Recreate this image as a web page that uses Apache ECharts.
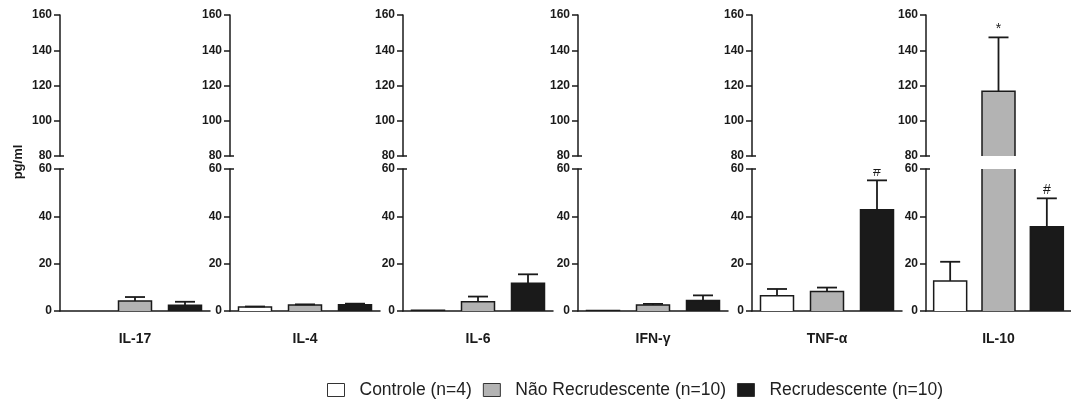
<!DOCTYPE html>
<html>
<head>
<meta charset="utf-8">
<script src="https://cdn.jsdelivr.net/npm/echarts@6/dist/echarts.min.js"></script>
<style>
  html, body { margin: 0; background: #fff; }
  #chart { width: 1071px; height: 403px; }
</style>
</head>
<body>
<div id="chart"></div>
<script>
  // dados (pg/ml, média e erro padrão)
  const cytokines = ['IL-17', 'IL-4', 'IL-6', 'IFN-γ', 'TNF-α', 'IL-10'];
  const groups = ['Controle (n=4)', 'Não Recrudescente (n=10)', 'Recrudescente (n=10)'];
  const controleMean = [0, 1.7, 0.3, 0.2, 6.4, 12.7];
  const controleSem = [0, 0.2, 0, 0, 2.9, 8.1];
  const naoRecMean = [4.2, 2.5, 3.9, 2.5, 8.2, 116.8];
  const naoRecSem = [1.7, 0.3, 2.2, 0.5, 1.7, 30.5];
  const recMean = [2.4, 2.6, 11.7, 4.4, 42.8, 35.6];
  const recSem = [1.5, 0.5, 3.8, 2.2, 12.4, 12.0];
  const naoRecMarks = ['', '', '', '', '', '*'];
  const recMarks = ['', '', '', '', '#', '#'];
  const upperTicks = [80, 160];
  const lowerTicks = [0, 60];

  const means = [controleMean, naoRecMean, recMean];
  const sems = [controleSem, naoRecSem, recSem];
  const marks = [['', '', '', '', '', ''], naoRecMarks, recMarks];

  const chart = echarts.init(document.getElementById('chart'));
  const FONT = 'Liberation Sans, Arial, sans-serif';
  const INK = '#1a1a1a';
  const fills = ['#ffffff', '#b3b3b3', '#1a1a1a'];
  const panelLeft = [60, 230, 403, 578, 752, 926];
  const PANEL_W = 150;
  const BAR_W = 33;
  const CAP_W = 20;
  // parte de cima (80-160) e parte de baixo (0-60) do eixo quebrado
  const parts = [
    { top: 15, height: 141, ticks: upperTicks, breakAt: upperTicks[0] },
    { top: 169, height: 142, ticks: lowerTicks, breakAt: lowerTicks[1] }
  ];

  const grid = [], xAxis = [], yAxis = [], series = [];

  // contorno da barra (sem a base, para não marcar a quebra), barra de erro
  // (só para cima) e marcação de significância
  function errorRenderer(p) {
    return function (params, api) {
      const k = api.value(0);
      const m = api.value(1);
      const s = api.value(2);
      const zero = api.coord([k, 0]);
      const base = api.coord([k, m]);
      const top = api.coord([k, m + s]);
      const half = BAR_W / 2;
      const children = [];
      if (m > 0) {
        children.push({
          type: 'polyline',
          shape: {
            points: [
              [base[0] - half, zero[1]], [base[0] - half, base[1]],
              [base[0] + half, base[1]], [base[0] + half, zero[1]]
            ]
          },
          style: { stroke: INK, lineWidth: 1.5, fill: null }
        });
      }
      if (s > 0) {
        children.push({
          type: 'line',
          shape: { x1: base[0], y1: base[1], x2: top[0], y2: top[1] },
          style: { stroke: INK, lineWidth: 1.8 }
        });
        children.push({
          type: 'line',
          shape: { x1: top[0] - CAP_W / 2, y1: top[1], x2: top[0] + CAP_W / 2, y2: top[1] },
          style: { stroke: INK, lineWidth: 1.8 }
        });
      }
      const mk = marks[k][p];
      if (mk) {
        children.push({
          type: 'text',
          x: top[0], y: top[1] - 1,
          style: {
            text: mk, fill: INK, font: '14px ' + FONT,
            align: 'center', verticalAlign: 'bottom'
          }
        });
      }
      return { type: 'group', children: children };
    };
  }

  cytokines.forEach((name, p) => {
    parts.forEach((part, h) => {
      const gi = grid.length;
      const isLower = h === 1;
      grid.push({ left: panelLeft[p], width: PANEL_W, top: part.top, height: part.height });
      xAxis.push({
        type: 'category',
        gridIndex: gi,
        data: groups,
        show: isLower,
        axisLine: { lineStyle: { color: INK, width: 1.5 } },
        axisTick: {
          alignWithLabel: true,
          interval: (i) => i === 1,
          length: 5,
          lineStyle: { color: INK, width: 1.5 }
        },
        axisLabel: { show: false },
        name: isLower ? name : '',
        nameLocation: 'middle',
        nameGap: 21,
        nameTextStyle: { fontFamily: FONT, fontWeight: 'bold', fontSize: 14, color: INK }
      });
      const yi = yAxis.length;
      yAxis.push({
        type: 'value',
        gridIndex: gi,
        position: 'left',
        min: part.ticks[0],
        max: part.ticks[1],
        interval: 20,
        splitLine: { show: false },
        axisLine: { show: true, lineStyle: { color: INK, width: 1.5 } },
        axisTick: { show: true, length: 6, lineStyle: { color: INK, width: 1.5 } },
        axisLabel: { fontFamily: FONT, fontWeight: 'bold', fontSize: 12, color: INK, margin: 8 }
      });
      // pequeno traço para dentro no ponto da quebra
      yAxis.push({
        type: 'value',
        gridIndex: gi,
        position: 'left',
        min: part.ticks[0],
        max: part.ticks[1],
        interval: 20,
        splitLine: { show: false },
        axisLine: { show: false },
        axisLabel: { show: false },
        axisTick: {
          show: true, inside: true, length: 4,
          customValues: [part.breakAt],
          lineStyle: { color: INK, width: 1.5 }
        }
      });
      groups.forEach((g, k) => {
        series.push({
          type: 'bar',
          name: g,
          xAxisIndex: gi,
          yAxisIndex: yi,
          data: groups.map((_, j) => (j === k ? means[k][p] : '-')),
          barWidth: BAR_W,
          barGap: '-100%',
          itemStyle: { color: fills[k], borderWidth: 0 },
          emphasis: { disabled: true },
          silent: true
        });
      });
      series.push({
        type: 'custom',
        xAxisIndex: gi,
        yAxisIndex: yi,
        clip: true,
        silent: true,
        data: groups.map((_, k) => [k, means[k][p], sems[k][p]]),
        renderItem: errorRenderer(p),
        z: 3
      });
    });
  });

  const option = {
    animation: false,
    backgroundColor: '#fff',
    textStyle: { fontFamily: FONT },
    grid: grid,
    xAxis: xAxis,
    yAxis: yAxis,
    series: series,
    legend: {
      data: groups,
      left: 322,
      top: 376,
      icon: 'rect',
      itemWidth: 17,
      itemHeight: 13,
      itemGap: 11,
      selectedMode: false,
      itemStyle: { borderColor: '#333', borderWidth: 1 },
      textStyle: { fontFamily: FONT, fontSize: 17.5, color: '#222', padding: [0, 0, 0, 10] }
    },
    graphic: [{
      type: 'text',
      x: 18, y: 162,
      rotation: Math.PI / 2,
      style: {
        text: 'pg/ml', fill: INK, font: 'bold 13px ' + FONT,
        align: 'center', verticalAlign: 'middle'
      }
    }]
  };
  chart.setOption(option);
</script>
</body>
</html>
